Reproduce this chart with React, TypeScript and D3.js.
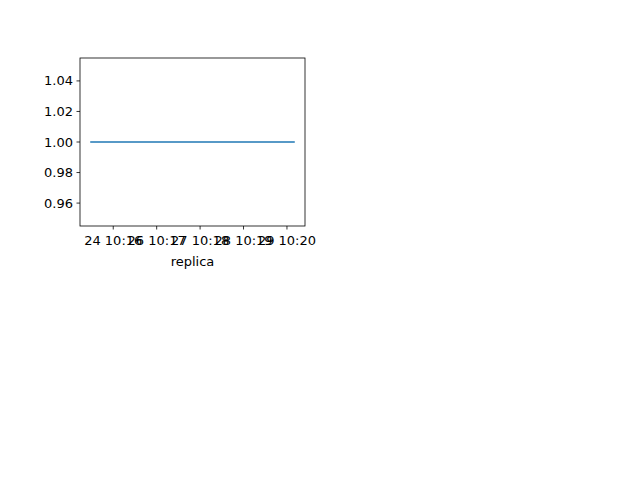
import * as d3 from "d3";

const xValues = [-0.53, 4.18];
const yValues = [1, 1];
const xTicks = [0, 1, 2, 3, 4];
const xTickLabels = ["24 10:16", "26 10:17", "27 10:18", "28 10:19", "29 10:20"];
const yTicks = [0.96, 0.98, 1.0, 1.02, 1.04];

export default function App() {
  const left = 80, right = 305, top = 58, bottom = 226;
  const pad = (4.18 + 0.53) * 0.05;
  const x = d3.scaleLinear().domain([-0.53 - pad, 4.18 + pad]).range([left, right]);
  const y = d3.scaleLinear().domain([0.945, 1.055]).range([bottom, top]);
  const line = d3.line<number>().x((_, i) => x(xValues[i])).y((d) => y(d));
  const font = "DejaVu Sans, sans-serif";
  return (
    <svg width={640} height={480} style={{ position: "absolute", left: 0, top: 0 }} fontFamily={font}>
      <rect width={640} height={480} fill="#fff" />
      <path d={line(yValues) ?? ""} fill="none" stroke="#1f77b4" strokeWidth={1.5} />
      <rect x={left} y={top} width={right - left} height={bottom - top} fill="none" stroke="#000" strokeWidth={0.8} />
      {yTicks.map((t) => (
        <g key={t}>
          <line x1={left - 3.5} x2={left} y1={y(t)} y2={y(t)} stroke="#000" strokeWidth={0.8} />
          <text x={left - 7} y={y(t)} dy="0.35em" textAnchor="end" fontSize={13}>{t.toFixed(2)}</text>
        </g>
      ))}
      {xTicks.map((t, i) => (
        <g key={t}>
          <line x1={x(t)} x2={x(t)} y1={bottom} y2={bottom + 3.5} stroke="#000" strokeWidth={0.8} />
          <text x={x(t)} y={bottom + 19} textAnchor="middle" fontSize={13}>{xTickLabels[i]}</text>
        </g>
      ))}
      <text x={(left + right) / 2} y={bottom + 40} textAnchor="middle" fontSize={13}>replica</text>
    </svg>
  );
}
